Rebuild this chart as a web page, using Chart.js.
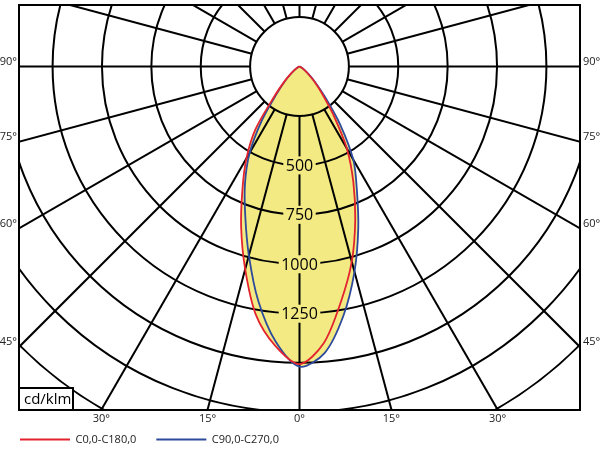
<!DOCTYPE html>
<html>
<head>
<meta charset="utf-8">
<title>Lichtstärkeverteilung</title>
<script src="https://cdn.jsdelivr.net/npm/chart.js@4.4.1/dist/chart.umd.min.js"></script>
<style>
  body { margin: 0; background: #fff; }
  canvas { display: block; }
</style>
</head>
<body>
<canvas id="polar" width="600" height="450"></canvas>
<script>
// gamma angles in degrees, intensities in cd/klm
const gammaAngles = [0, 5, 10, 15, 20, 25, 30, 35, 40, 45, 50, 55, 60, 65, 70, 75, 80, 85, 90];
const c180 = [1505, 1417, 1274, 1062, 864, 683, 538, 390, 200, 110, 60, 30, 15, 8, 4, 2, 0, 0, 0];
const c0 = [1505, 1405, 1208, 1022, 825, 645, 480, 300, 175, 105, 55, 28, 14, 7, 3, 1, 0, 0, 0];
const c270 = [1518, 1395, 1203, 990, 803, 653, 505, 330, 180, 105, 55, 28, 14, 7, 3, 1, 0, 0, 0];
const c90 = [1518, 1455, 1280, 1075, 870, 687, 545, 360, 200, 112, 60, 30, 15, 8, 4, 2, 0, 0, 0];

const seriesNames = ['C0,0-C180,0', 'C90,0-C270,0'];
const ringValues = [250, 500, 750, 1000, 1250, 1500, 1750, 2000, 2250];
const ringLabels = [500, 750, 1000, 1250];
const spokeStep = 15;
const sideAngles = [90, 75, 60, 45];
const bottomAngles = [-30, -15, 0, 15, 30];
const unitLabel = 'cd/klm';

const X_MAX = 1420;
const Y_MIN = -1737;
const Y_MAX = 311;

const fillYellow = '#f3ea84';
const red = '#e3242e';
const blue = '#2d4a9c';

Chart.defaults.font.family = "'Open Sans', sans-serif";
Chart.defaults.color = '#222';

function rad(deg) {
  return deg * Math.PI / 180;
}

// left half runs 90 -> 0, right half 0 -> 90
function toCurve(left, right) {
  const pts = [];
  for (let i = gammaAngles.length - 1; i >= 0; i--) {
    const g = rad(gammaAngles[i]);
    pts.push({ x: -left[i] * Math.sin(g), y: -left[i] * Math.cos(g) });
  }
  for (let i = 1; i < gammaAngles.length; i++) {
    const g = rad(gammaAngles[i]);
    pts.push({ x: right[i] * Math.sin(g), y: -right[i] * Math.cos(g) });
  }
  return pts;
}

const bottomTicks = bottomAngles.map(a => -Y_MIN * Math.tan(rad(a)));
const sideTicks = sideAngles.map(a => -X_MAX / Math.tan(rad(a)));

const polarGrid = {
  id: 'polarGrid',
  beforeDatasetsDraw(chart) {
    const { ctx, chartArea: a, scales: { x, y } } = chart;
    const cx = x.getPixelForValue(0);
    const cy = y.getPixelForValue(0);
    const k = (x.getPixelForValue(X_MAX) - cx) / X_MAX;
    const rIn = ringValues[0] * k;
    const rOut = ringValues[ringValues.length - 1] * k * 1.2;
    ctx.save();
    ctx.beginPath();
    ctx.rect(a.left, a.top, a.width, a.height);
    ctx.clip();
    ctx.strokeStyle = '#000';
    ctx.lineWidth = 2;
    for (const v of ringValues) {
      ctx.beginPath();
      ctx.arc(cx, cy, v * k, 0, Math.PI * 2);
      ctx.stroke();
    }
    for (let g = 0; g < 360; g += spokeStep) {
      const t = rad(g);
      ctx.beginPath();
      ctx.moveTo(cx + rIn * Math.sin(t), cy + rIn * Math.cos(t));
      ctx.lineTo(cx + rOut * Math.sin(t), cy + rOut * Math.cos(t));
      ctx.stroke();
    }
    ctx.restore();
  }
};

const ringText = {
  id: 'ringText',
  afterDatasetsDraw(chart) {
    const { ctx, chartArea: a, scales: { x, y } } = chart;
    const cx = x.getPixelForValue(0);
    ctx.save();
    ctx.font = "16px 'Open Sans'";
    ctx.textAlign = 'center';
    ctx.textBaseline = 'middle';
    for (const v of ringLabels) {
      const py = y.getPixelForValue(-v);
      const w = ctx.measureText(String(v)).width + 5;
      ctx.fillStyle = fillYellow;
      ctx.fillRect(cx - w / 2, py - 9, w, 18);
      ctx.fillStyle = '#000';
      ctx.fillText(String(v), cx, py + 1);
    }
    // unit box, bottom left corner
    ctx.fillStyle = '#fff';
    ctx.fillRect(a.left, a.bottom - 22, 54, 22);
    ctx.strokeStyle = '#000';
    ctx.lineWidth = 2;
    ctx.strokeRect(a.left, a.bottom - 22, 54, 22);
    ctx.fillStyle = '#000';
    ctx.font = "15px 'Open Sans'";
    ctx.textAlign = 'left';
    ctx.fillText(unitLabel, a.left + 5, a.bottom - 10);
    ctx.restore();
  }
};

// the bottom axis is squeezed to 4px in the layout; give its labels room to show
const bottomTickRoom = {
  id: 'bottomTickRoom',
  afterLayout(chart) {
    const s = chart.scales.x;
    s.bottom = s.top + 20;
  }
};

const frame = { display: true, color: '#000', width: 2 };

function noPadding(s) {
  s.paddingTop = 0;
  s.paddingBottom = 0;
  s.paddingLeft = 0;
  s.paddingRight = 0;
}

new Chart(document.getElementById('polar'), {
  type: 'scatter',
  data: {
    datasets: [
      {
        label: seriesNames[0],
        data: toCurve(c180, c0),
        borderColor: red,
        backgroundColor: fillYellow,
        borderWidth: 1.8,
        fill: 'shape',
        order: 0
      },
      {
        label: seriesNames[1],
        data: toCurve(c270, c90),
        borderColor: blue,
        backgroundColor: fillYellow,
        borderWidth: 1.8,
        fill: 'shape',
        order: 1
      }
    ]
  },
  options: {
    responsive: false,
    animation: false,
    showLine: true,
    elements: {
      point: { radius: 0, hoverRadius: 0 },
      line: { tension: 0.3 }
    },
    layout: { padding: { left: 0, right: 0, top: 0, bottom: -5 } },
    scales: {
      x: {
        type: 'linear',
        position: 'bottom',
        min: -X_MAX,
        max: X_MAX,
        grid: { display: false, drawTicks: false },
        border: frame,
        afterBuildTicks: s => { s.ticks = bottomTicks.map(v => ({ value: v })); },
        afterFit: s => { s.height = 4; noPadding(s); },
        ticks: {
          padding: 2,
          font: { size: 11 },
          callback: (v, i) => Math.abs(bottomAngles[i]) + '°'
        }
      },
      xTop: {
        type: 'linear',
        axis: 'x',
        position: 'top',
        min: -X_MAX,
        max: X_MAX,
        grid: { display: false, drawTicks: false },
        border: frame,
        ticks: { display: false },
        afterFit: s => { s.height = 5; noPadding(s); }
      },
      y: {
        type: 'linear',
        position: 'left',
        min: Y_MIN,
        max: Y_MAX,
        grid: { display: false, drawTicks: false },
        border: frame,
        afterBuildTicks: s => { s.ticks = sideTicks.map(v => ({ value: v })); },
        afterFit: s => { s.width = 19; noPadding(s); },
        ticks: {
          padding: 2,
          labelOffset: -5,
          font: { size: 11 },
          callback: (v, i) => sideAngles[i] + '°'
        }
      },
      yRight: {
        type: 'linear',
        axis: 'y',
        position: 'right',
        min: Y_MIN,
        max: Y_MAX,
        grid: { display: false, drawTicks: false },
        border: frame,
        afterBuildTicks: s => { s.ticks = sideTicks.map(v => ({ value: v })); },
        afterFit: s => { s.width = 20; noPadding(s); },
        ticks: {
          padding: 3,
          labelOffset: -5,
          font: { size: 11 },
          callback: (v, i) => sideAngles[i] + '°'
        }
      }
    },
    plugins: {
      filler: { drawTime: 'beforeDatasetsDraw' },
      tooltip: { enabled: false },
      legend: {
        position: 'bottom',
        align: 'start',
        labels: {
          usePointStyle: true,
          pointStyle: 'line',
          pointStyleWidth: 50,
          padding: 20,
          color: '#222',
          font: { size: 11 }
        }
      }
    }
  },
  plugins: [polarGrid, ringText, bottomTickRoom]
});
</script>
</body>
</html>
